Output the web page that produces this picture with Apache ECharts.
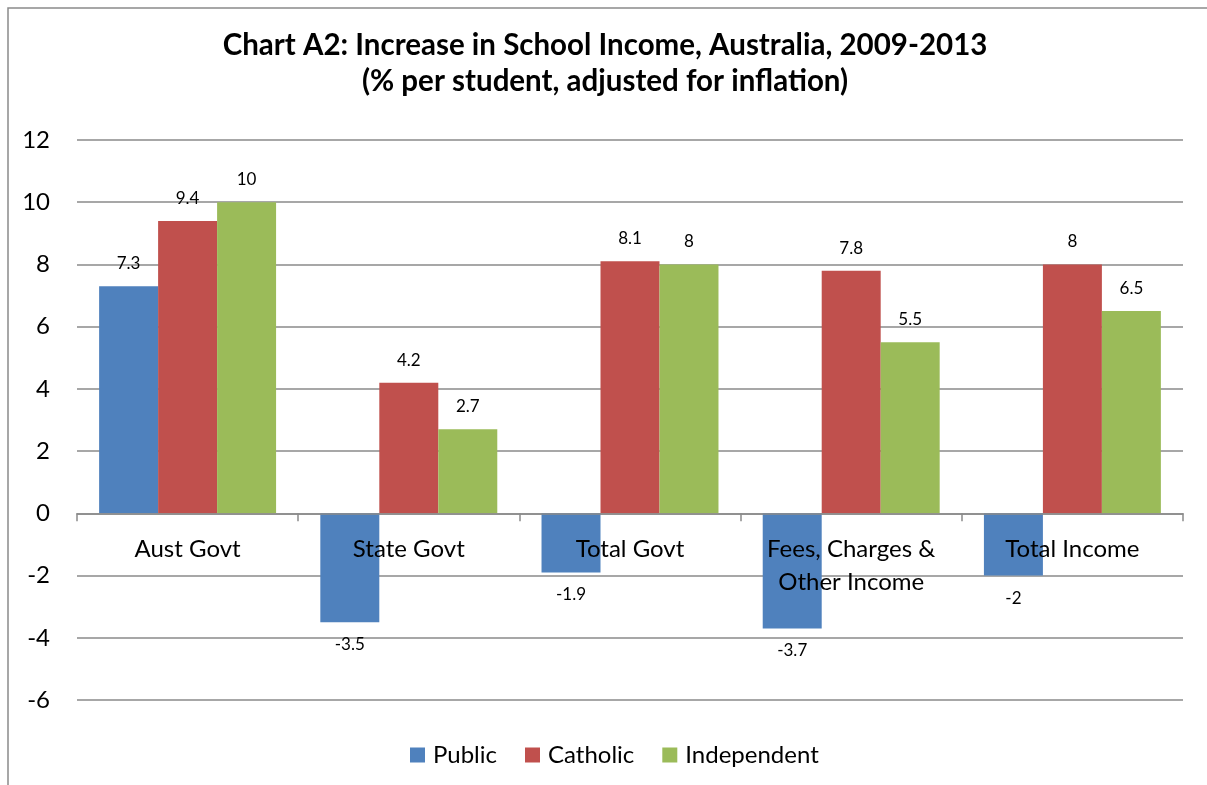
<!DOCTYPE html>
<html>
<head>
<meta charset="utf-8">
<script src="https://cdn.jsdelivr.net/npm/echarts@6/dist/echarts.min.js"></script>
<style>
  html, body { margin: 0; padding: 0; background: #fff; }
  #chart { width: 1207px; height: 785px; }
</style>
</head>
<body>
<div id="chart"></div>
<script>
// School income growth by funding source, 2009-2013
const categories = ['Aust Govt', 'State Govt', 'Total Govt', 'Fees, Charges &\nOther Income', 'Total Income'];
const publicValues = [7.3, -3.5, -1.9, -3.7, -2];
const catholicValues = [9.4, 4.2, 8.1, 7.8, 8];
const independentValues = [10, 2.7, 8, 5.5, 6.5];
const yTicks = { min: -6, max: 12, interval: 2 };

const FONT = 'Lato, "Open Sans", sans-serif';
const GRID_TOP = 140;
const GRID_BOTTOM = 85;
const PLOT_H = 785 - GRID_TOP - GRID_BOTTOM;
// Shift the category axis up so it sits on the zero line, labels included
const zeroOffset = -PLOT_H * (0 - yTicks.min) / (yTicks.max - yTicks.min);

function makeSeries(name, values, color) {
  return {
    name: name,
    type: 'bar',
    data: values.map(v => ({
      value: v,
      label: { position: v < 0 ? 'bottom' : 'top' }
    })),
    itemStyle: { color: color },
    barGap: '0%',
    barCategoryGap: '20%',
    label: {
      show: true,
      distance: 14,
      fontFamily: FONT,
      fontSize: 17,
      color: '#000'
    },
    z: 2
  };
}

const chart = echarts.init(document.getElementById('chart'), null, { renderer: 'canvas' });
chart.setOption({
  backgroundColor: '#fff',
  animation: false,
  graphic: [{
    type: 'rect',
    shape: { x: 8, y: 8, width: 1300, height: 900 },
    style: { fill: 'none', stroke: '#8a8a8a', lineWidth: 1.5 },
    silent: true,
    z: -1
  }],
  title: {
    text: 'Chart A2: Increase in School Income, Australia, 2009-2013\n(% per student, adjusted for inflation)',
    left: 600,
    textAlign: 'center',
    top: 22,
    textStyle: {
      fontFamily: FONT,
      fontWeight: 'bold',
      fontSize: 29.5,
      lineHeight: 36,
      color: '#000'
    }
  },
  legend: {
    bottom: 13,
    left: 405,
    itemWidth: 15,
    itemHeight: 15,
    itemGap: 28,
    icon: 'rect',
    textStyle: { fontFamily: FONT, fontSize: 24, color: '#000', padding: [0, 0, 0, 3] },
    data: ['Public', 'Catholic', 'Independent']
  },
  grid: { left: 77, right: 24, top: GRID_TOP, bottom: GRID_BOTTOM, containLabel: false },
  xAxis: {
    type: 'category',
    data: categories,
    position: 'bottom',
    offset: zeroOffset,
    z: 10,
    axisLine: { onZero: false, lineStyle: { color: '#8a8a8a', width: 1.5 } },
    axisTick: { show: true, length: 8, lineStyle: { color: '#8a8a8a', width: 1.5 } },
    axisLabel: {
      fontFamily: FONT,
      fontSize: 24,
      lineHeight: 33,
      color: '#000',
      margin: 19,
      interval: 0
    },
    splitLine: { show: false }
  },
  yAxis: {
    type: 'value',
    min: yTicks.min,
    max: yTicks.max,
    interval: yTicks.interval,
    axisLine: { show: false },
    axisTick: { show: false },
    axisLabel: { fontFamily: FONT, fontSize: 24, color: '#000', margin: 27 },
    splitLine: { lineStyle: { color: '#8a8a8a', width: 1.5 } }
  },
  series: [
    makeSeries('Public', publicValues, '#4F81BD'),
    makeSeries('Catholic', catholicValues, '#C0504D'),
    makeSeries('Independent', independentValues, '#9BBB59')
  ]
});
</script>
</body>
</html>
